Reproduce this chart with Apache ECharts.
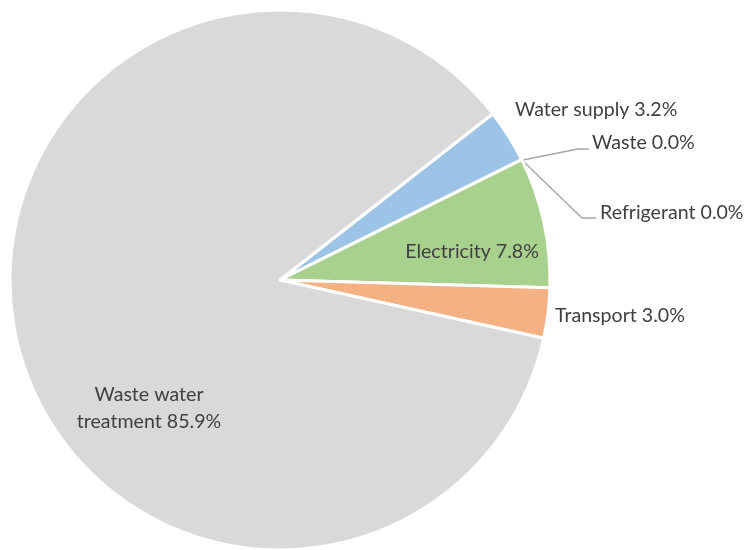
<!DOCTYPE html>
<html>
<head>
<meta charset="utf-8">
<script src="https://cdn.jsdelivr.net/npm/echarts@6/dist/echarts.min.js"></script>
<style>html,body{margin:0;padding:0;background:#fff;}#chart{width:747px;height:550px;}</style>
</head>
<body>
<div id="chart"></div>
<script>
const categories = ['Water supply', 'Waste', 'Refrigerant', 'Electricity', 'Transport', 'Waste water treatment'];
const values = [3.2, 0.0, 0.0, 7.8, 3.0, 85.9];
const colors = ['#9dc3e6', '#d9d9d9', '#d9d9d9', '#a9d18e', '#f4b183', '#d9d9d9'];

// label anchor positions (x, y, align) per slice, matching the reference layout
const labelPos = [
  {x: 515, y: 110, align: 'left'},
  {x: 592, y: 143, align: 'left', line: [[523, 160], [578, 149], [589, 149]]},
  {x: 600, y: 213, align: 'left', line: [[524, 162], [582, 218], [596, 218]]},
  {x: 472, y: 252, align: 'center'},
  {x: 555, y: 316, align: 'left'},
  {x: 149, y: 408, align: 'center'}
];

const chart = echarts.init(document.getElementById('chart'), null, {renderer: 'canvas'});
chart.setOption({
  animation: false,
  backgroundColor: '#ffffff',
  series: [{
    type: 'pie',
    center: [280, 280],
    radius: [0, 270],
    startAngle: 38,
    clockwise: true,
    avoidLabelOverlap: false,
    itemStyle: {borderColor: '#ffffff', borderWidth: 3},
    label: {
      show: true,
      color: '#404040',
      fontFamily: 'Lato',
      fontSize: 19.6,
      lineHeight: 27,
      formatter: function (p) {
        const name = p.name === 'Waste water treatment' ? 'Waste water\ntreatment' : p.name;
        return name + ' ' + p.value.toFixed(1) + '%';
      }
    },
    labelLine: {show: true, lineStyle: {color: '#a6a6a6', width: 1.3}, length: 10, length2: 10},
    labelLayout: function (params) {
      const lp = labelPos[params.dataIndex];
      const out = {x: lp.x, y: lp.y, align: lp.align, verticalAlign: 'middle'};
      if (lp.line) out.labelLinePoints = lp.line;
      else out.labelLinePoints = [[0,0],[0,0]];
      return out;
    },
    data: categories.map(function (c, i) {
      const item = {name: c, value: values[i], itemStyle: {color: colors[i]}};
      if (!labelPos[i].line) item.labelLine = {show: false};
      return item;
    })
  }]
});
</script>
</body>
</html>
